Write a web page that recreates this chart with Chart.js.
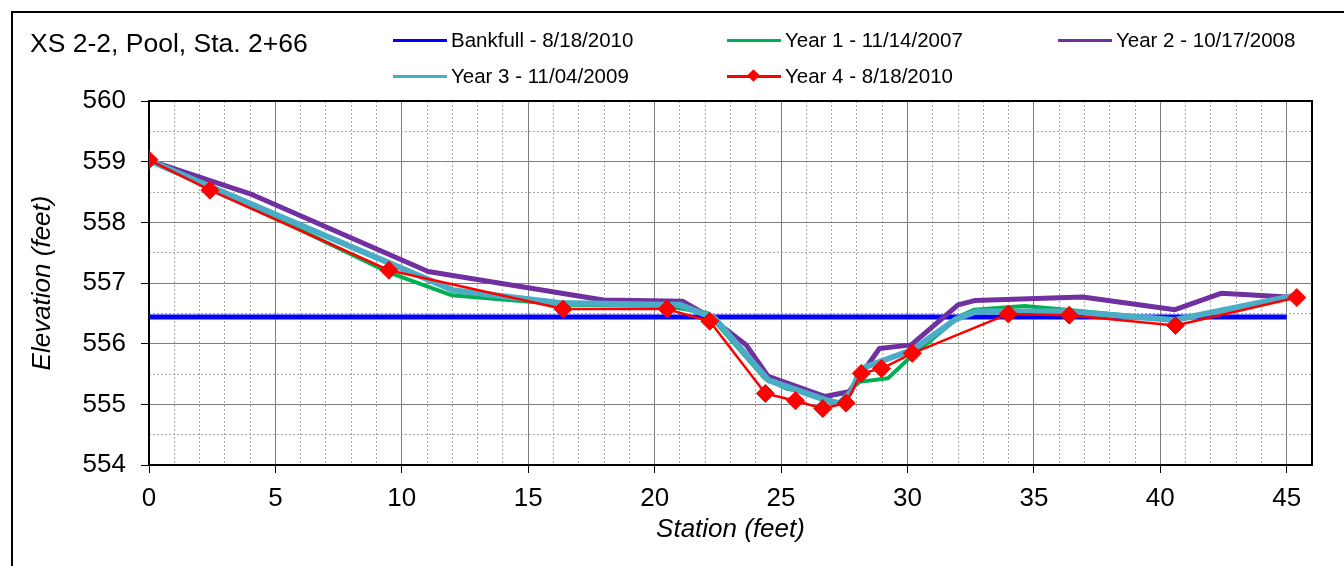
<!DOCTYPE html>
<html>
<head>
<meta charset="utf-8">
<script src="https://cdn.jsdelivr.net/npm/chart.js@4/dist/chart.umd.min.js"></script>
<style>
  html, body { margin: 0; padding: 0; background: #fff; }
  #wrap { position: relative; width: 1344px; height: 566px; overflow: hidden; font-family: "Liberation Sans", Arial, sans-serif; color: #000; }
  #c { position: absolute; left: 0; top: 0; }
  #title { position: absolute; left: 30px; top: 28px; font-size: 26.5px; line-height: 30px; white-space: nowrap; }
  .lg { position: absolute; height: 24px; line-height: 24px; font-size: 20.5px; white-space: nowrap; display: flex; align-items: center; }
  .lg .sw { position: relative; width: 54px; height: 3px; margin-right: 4px; }
  .lg .mk { position: absolute; left: 22px; top: -4px; width: 9px; height: 9px; transform: rotate(45deg); }
</style>
</head>
<body>
<div id="wrap">
  <canvas id="c" width="1344" height="566"></canvas>
  <div id="title">XS 2-2, Pool, Sta. 2+66</div>
  <div id="legend"></div>
</div>
<script>
// ---- Data ----
const bankfullStation = [0, 45.0];
const bankfullElev    = [556.44, 556.44];

const year1Station = [0, 2.4, 9.5, 11.96, 16.5, 20.5, 22.11, 24.35, 25.2, 26.78, 27.64, 28.1, 29.23, 30.15, 32.06, 32.65, 34.63, 36.27, 40.6, 45.4];
const year1Elev    = [559.02, 558.60, 557.17, 556.80, 556.64, 556.62, 556.50, 555.43, 555.26, 555.13, 555.19, 555.37, 555.43, 555.79, 556.45, 556.56, 556.62, 556.56, 556.39, 556.79];

const year2Station = [0, 4.0, 11.04, 17.96, 21.1, 22.18, 23.62, 24.49, 26.72, 27.69, 28.89, 30.15, 32.0, 32.65, 36.93, 40.58, 42.4, 45.4];
const year2Elev    = [559.02, 558.47, 557.19, 556.72, 556.70, 556.44, 555.98, 555.46, 555.13, 555.21, 555.92, 555.98, 556.64, 556.71, 556.77, 556.56, 556.83, 556.76];

const year3Station = [0, 12.03, 16.25, 20.46, 21.0, 22.37, 24.49, 26.78, 27.31, 27.77, 28.17, 30.21, 31.9, 32.72, 36.27, 40.57, 45.4];
const year3Elev    = [559.02, 556.88, 556.67, 556.64, 556.64, 556.42, 555.40, 555.07, 555.02, 555.21, 555.59, 555.90, 556.40, 556.53, 556.53, 556.39, 556.80];

const year4Station = [0, 2.41, 9.49, 16.38, 20.49, 22.18, 24.38, 25.57, 26.65, 27.57, 28.17, 28.97, 30.19, 33.99, 36.40, 40.60, 45.40];
const year4Elev    = [559.03, 558.53, 557.21, 556.57, 556.57, 556.37, 555.18, 555.06, 554.93, 555.02, 555.51, 555.59, 555.84, 556.49, 556.47, 556.30, 556.76];

const seriesLabels = ['Bankfull - 8/18/2010', 'Year 1 - 11/14/2007', 'Year 2 - 10/17/2008', 'Year 3 - 11/04/2009', 'Year 4 - 8/18/2010'];
const xTickStep = 5, xMin = 0, xMax = 46;
const yTickStep = 1, yMin = 554, yMax = 560;

const titleText = 'XS 2-2, Pool, Sta. 2+66';
const xTitle = 'Station (feet)';
const yTitle = 'Elevation (feet)';

function pts(xs, ys) { return xs.map((x, i) => ({ x: x, y: ys[i] })); }

Chart.defaults.font.family = '"Liberation Sans", Arial, sans-serif';
Chart.defaults.color = '#000';

const framePlugin = {
  id: 'frame',
  beforeDraw(chart) {
    const c = chart.ctx;
    c.save();
    c.fillStyle = '#fff';
    c.fillRect(0, 0, chart.width, chart.height);
    c.strokeStyle = '#000';
    c.lineWidth = 2;
    c.beginPath();
    c.moveTo(12, chart.height + 2);
    c.lineTo(12, 12);
    c.lineTo(chart.width + 2, 12);
    c.stroke();
    c.restore();
  },
  beforeDatasetsDraw(chart) {
    const a = chart.chartArea, c = chart.ctx;
    c.save();
    c.strokeStyle = '#000';
    c.lineWidth = 2;
    c.strokeRect(a.left, a.top, a.right - a.left, a.bottom - a.top);
    c.restore();
  }
};

const lineBase = { tension: 0, pointRadius: 0, pointHoverRadius: 0, fill: false, borderJoinStyle: 'round', borderCapStyle: 'butt' };

const datasets = [
  Object.assign({}, lineBase, { label: seriesLabels[0], data: pts(bankfullStation, bankfullElev), borderColor: '#0000FF', backgroundColor: '#0000FF', borderWidth: 5, order: 5 }),
  Object.assign({}, lineBase, { label: seriesLabels[1], data: pts(year1Station, year1Elev), borderColor: '#00B050', backgroundColor: '#00B050', borderWidth: 4, order: 4 }),
  Object.assign({}, lineBase, { label: seriesLabels[2], data: pts(year2Station, year2Elev), borderColor: '#7030A0', backgroundColor: '#7030A0', borderWidth: 5, order: 3 }),
  Object.assign({}, lineBase, { label: seriesLabels[3], data: pts(year3Station, year3Elev), borderColor: '#4BACC6', backgroundColor: '#4BACC6', borderWidth: 6, order: 2 }),
  Object.assign({}, lineBase, { label: seriesLabels[4], data: pts(year4Station, year4Elev), borderColor: '#FF0000', backgroundColor: '#FF0000', borderWidth: 2.5, order: 1,
    pointRadius: 9, pointStyle: 'rectRot', pointBorderColor: '#FF0000', pointBackgroundColor: '#FF0000', pointBorderWidth: 1 })
];

const tickFont = { size: 26 };
const titleFont = { size: 26, style: 'italic' };

const chart = new Chart(document.getElementById('c').getContext('2d'), {
  type: 'line',
  data: { datasets: datasets },
  plugins: [framePlugin],
  options: {
    responsive: false,
    animation: false,
    events: [],
    layout: { padding: { left: 0, right: 32, top: 101, bottom: 0 } },
    plugins: { legend: { display: false }, title: { display: false }, tooltip: { enabled: false } },
    scales: {
      x: {
        type: 'linear', position: 'bottom', min: xMin, max: xMax,
        ticks: { stepSize: xTickStep, includeBounds: false, font: tickFont, color: '#000', padding: 10, maxRotation: 0, autoSkip: false },
        grid: { color: '#7f7f7f', lineWidth: 1, tickLength: 8, tickColor: '#000', tickWidth: 1 },
        border: { color: '#000', width: 2 },
        title: { display: true, text: xTitle, font: titleFont, color: '#000', padding: { top: 0, bottom: 21 } },
        afterFit(s) { s.height = 101; }
      },
      xm: {
        type: 'linear', position: 'bottom', min: xMin, max: xMax,
        ticks: { stepSize: 1, display: false, includeBounds: false },
        grid: { color: (ctx) => (ctx.tick && ctx.tick.value % xTickStep === 0) ? 'rgba(0,0,0,0)' : '#a6a6a6', lineWidth: 1, drawTicks: false },
        border: { display: false, dash: [2, 2] },
        afterFit(s) { s.height = 0; }
      },
      y: {
        type: 'linear', position: 'left', min: yMin, max: yMax,
        ticks: { stepSize: yTickStep, includeBounds: false, font: tickFont, color: '#000', padding: 15 },
        grid: { color: '#7f7f7f', lineWidth: 1, tickLength: 8, tickColor: '#000', tickWidth: 1 },
        border: { color: '#000', width: 2 },
        title: { display: true, text: yTitle, font: titleFont, color: '#000', padding: { top: 27, bottom: 0 } },
        afterFit(s) { s.width = 149; }
      },
      ym: {
        type: 'linear', position: 'left', min: yMin, max: yMax,
        ticks: { stepSize: 0.5, display: false, includeBounds: false },
        grid: { color: (ctx) => (ctx.tick && Math.abs(ctx.tick.value - Math.round(ctx.tick.value)) < 1e-6) ? 'rgba(0,0,0,0)' : '#a6a6a6', lineWidth: 1, drawTicks: false },
        border: { display: false, dash: [2, 2] },
        afterFit(s) { s.width = 0; }
      }
    }
  }
});

// ---- HTML legend built from the chart's datasets ----
const legendCols = [393, 727, 1058];
const legendRows = [40, 76];
const legendEl = document.getElementById('legend');
chart.data.datasets.forEach((ds, i) => {
  const item = document.createElement('div');
  item.className = 'lg';
  item.style.left = legendCols[i % 3] + 'px';
  item.style.top = (legendRows[Math.floor(i / 3)] - 12) + 'px';
  const sw = document.createElement('span');
  sw.className = 'sw';
  sw.style.background = ds.borderColor;
  if (ds.pointStyle === 'rectRot') {
    const mk = document.createElement('span');
    mk.className = 'mk';
    mk.style.background = ds.pointBackgroundColor;
    sw.appendChild(mk);
  }
  const tx = document.createElement('span');
  tx.textContent = ds.label;
  item.appendChild(sw);
  item.appendChild(tx);
  legendEl.appendChild(item);
});
</script>
</body>
</html>
